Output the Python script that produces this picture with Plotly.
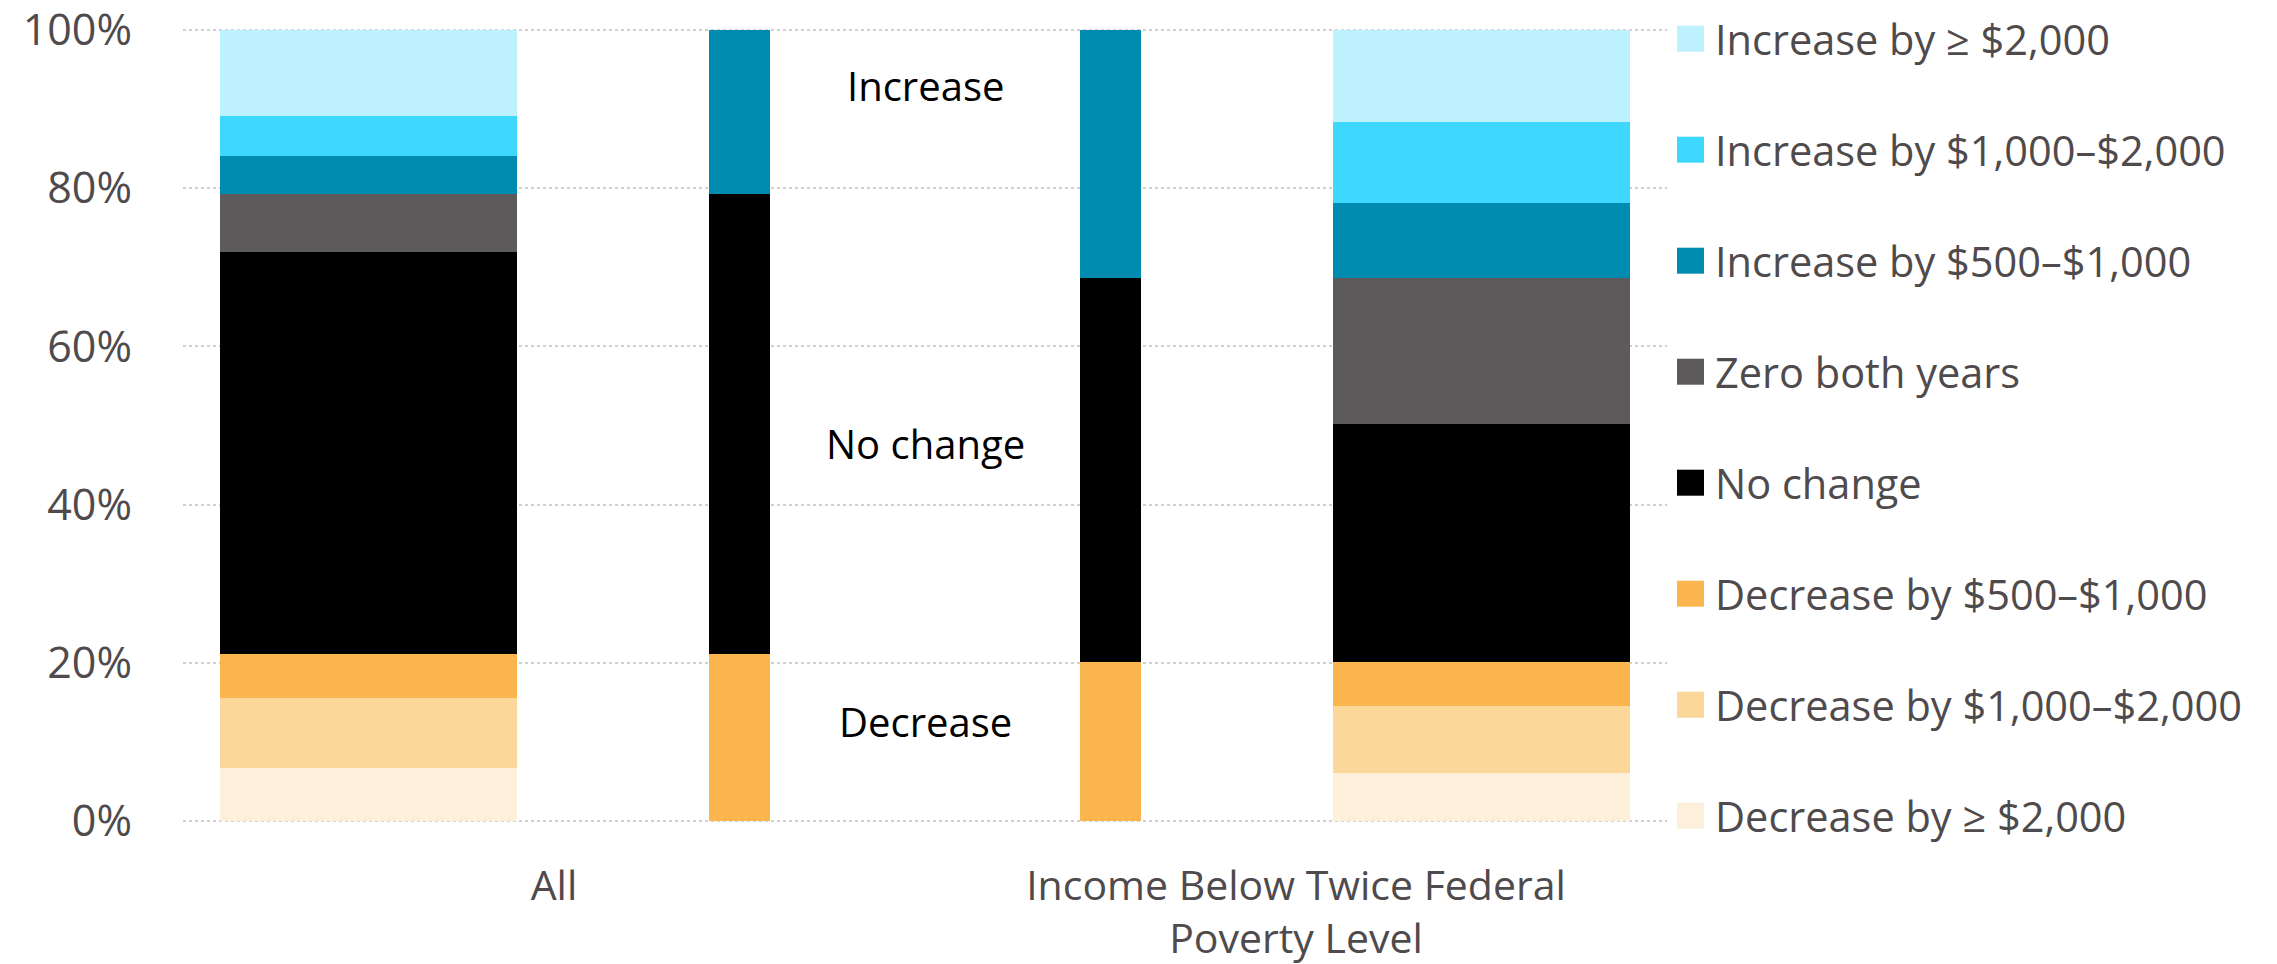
import plotly.graph_objects as go

# ---------------- data ----------------
categories = ["All", "Income Below Twice Federal<br>Poverty Level"]
bar_positions = [0, 3]          # detailed bars
summary_positions = [1, 2]      # summary bars
category_tick_positions = [0.5, 2.5]

series_names = [
    "Decrease by ≥ $2,000",
    "Decrease by $1,000–$2,000",
    "Decrease by $500–$1,000",
    "No change",
    "Zero both years",
    "Increase by $500–$1,000",
    "Increase by $1,000–$2,000",
    "Increase by ≥ $2,000",
]
series_colors = ["#FCF0DB", "#FCD79A", "#FBB54E", "#000000",
                 "#5D5A5B", "#008BB0", "#3ED8FE", "#BDF1FD"]

all_values = [6.7, 8.8, 5.6, 50.8, 7.4, 4.8, 5.0, 10.9]
income_values = [6.1, 8.4, 5.6, 30.1, 18.5, 9.4, 10.3, 11.6]

summary_names = ["Decrease", "No change", "Increase"]
summary_colors = ["#FBB54E", "#000000", "#008BB0"]
summary_groups = [[0, 1, 2], [3, 4], [5, 6, 7]]

y_ticks = [0, 20, 40, 60, 80, 100]

# ---------------- layout constants ----------------
W, H = 2277, 964
PL, PR, PT, PB = 183, 1667, 29, 822
TEXT_GRAY = "#4F4A4C"
FONT = "Open Sans"

fig = go.Figure()

for i, name in enumerate(series_names):
    fig.add_trace(go.Bar(
        x=bar_positions, y=[all_values[i], income_values[i]],
        width=0.8, name=name, marker=dict(color=series_colors[i], line_width=0),
        showlegend=False,
    ))

for j, name in enumerate(summary_names):
    vals = [sum(all_values[k] for k in summary_groups[j]),
            sum(income_values[k] for k in summary_groups[j])]
    fig.add_trace(go.Bar(
        x=summary_positions, y=vals, width=0.166, name=name,
        marker=dict(color=summary_colors[j], line_width=0), showlegend=False,
    ))

# labels between the summary bars
label_y = [12.55, 47.7, 93.0]
for j, name in enumerate(summary_names):
    fig.add_annotation(x=1.5, y=label_y[j], xref="x", yref="y", text=name,
                       showarrow=False, xanchor="center", yanchor="middle",
                       font=dict(family=FONT, size=40, color="#000000"))

# manual legend (top = last series)
def px_x(p):
    return (p - PL) / (PR - PL)

def px_y(p):
    return (PB - p) / (PB - PT)

for i, idx in enumerate(range(len(series_names) - 1, -1, -1)):
    cy = 38.7 + i * 111.0
    fig.add_shape(type="rect", xref="paper", yref="paper",
                  x0=px_x(1677), x1=px_x(1704),
                  y0=px_y(cy + 13), y1=px_y(cy - 13),
                  fillcolor=series_colors[idx], line_width=0)
    fig.add_annotation(x=px_x(1713), y=px_y(cy), xref="paper", yref="paper",
                       text=series_names[idx], showarrow=False,
                       xanchor="left", yanchor="middle",
                       font=dict(family=FONT, size=41.5, color=TEXT_GRAY))

fig.update_layout(
    width=W, height=H,
    margin=dict(l=PL, r=W - PR, t=PT, b=H - PB, pad=0, autoexpand=False),
    barmode="stack",
    plot_bgcolor="white", paper_bgcolor="white",
    font=dict(family=FONT, color=TEXT_GRAY),
    showlegend=False,
    xaxis=dict(range=[-0.5, 3.5], tickvals=category_tick_positions,
               ticktext=categories, showgrid=False, zeroline=False,
               showline=False, ticks="", ticklabelstandoff=36,
               ticklabeloverflow="allow", automargin=False,
               tickfont=dict(family=FONT, size=41, color=TEXT_GRAY)),
    yaxis=dict(range=[-0.15, 100.15], tickvals=y_ticks,
               ticktext=[f"{v}%" for v in y_ticks],
               showgrid=True, gridcolor="#D0D0D0", gridwidth=2, griddash="dot",
               zeroline=False, showline=False, ticks="", ticklabelstandoff=50,
               ticklabeloverflow="allow", automargin=False,
               tickfont=dict(family=FONT, size=43, color=TEXT_GRAY)),
)

fig.write_html("out.html")
